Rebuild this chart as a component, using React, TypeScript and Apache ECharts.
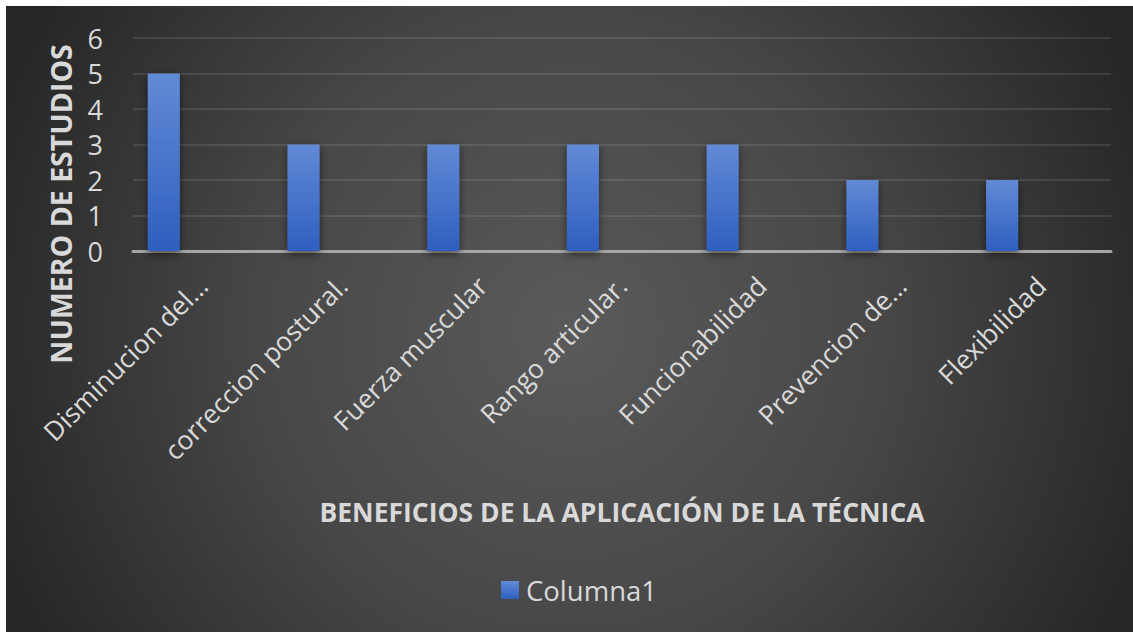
import React, { useEffect, useRef } from "react";
import * as echarts from "echarts";

const categories = [
  "Disminucion del…",
  "correccion postural.",
  "Fuerza muscular",
  "Rango articular.",
  "Funcionabilidad",
  "Prevencion de…",
  "Flexibilidad",
];
const columna1 = [5, 3, 3, 3, 3, 2, 2];
const emptySeries = [null, null, null, null, null, null, null];
const seriesName = "Columna1";
const yTitle = "NUMERO DE ESTUDIOS";
const xTitle = "BENEFICIOS DE LA APLICACIÓN DE LA TÉCNICA";

const FONT = "'Open Sans', Lato, sans-serif";
const TEXT = "#d9d9d9";

export default function App() {
  const ref = useRef<HTMLDivElement>(null);

  useEffect(() => {
    document.body.style.margin = "0";
    document.body.style.background = "#ffffff";
    if (!ref.current) return;
    const chart = echarts.init(ref.current, null, { renderer: "svg" });
    const barGradient = new echarts.graphic.LinearGradient(0, 0, 0, 1, [
      { offset: 0, color: "#628ad6" },
      { offset: 1, color: "#2e5fbf" },
    ]);
    chart.setOption({
      animation: false,
      backgroundColor: "transparent",
      textStyle: { fontFamily: FONT },
      grid: { left: 127, right: 22, top: 32, bottom: 381, containLabel: false },
      legend: {
        data: [seriesName],
        left: 490,
        top: 565,
        itemWidth: 18,
        itemHeight: 18,
        itemGap: 8,
        icon: "rect",
        textStyle: { color: TEXT, fontSize: 27.5, fontFamily: FONT, padding: [0, 0, 0, 2] },
      },
      xAxis: {
        type: "category",
        data: categories,
        axisLine: { show: true, lineStyle: { color: "#a6a6a6", width: 3 } },
        axisTick: { show: false },
        axisLabel: {
          rotate: 45,
          interval: 0,
          color: TEXT,
          fontSize: 26.5,
          fontFamily: FONT,
          margin: 30,
        },
        splitLine: { show: false },
      },
      yAxis: {
        type: "value",
        min: 0,
        max: 6,
        interval: 1,
        axisLine: { show: false },
        axisTick: { show: false },
        axisLabel: { color: TEXT, fontSize: 27, fontFamily: FONT, margin: 30 },
        splitLine: { lineStyle: { color: "rgba(255,255,255,0.1)", width: 2 } },
      },
      series: [
        {
          name: seriesName,
          type: "bar",
          data: columna1,
          barWidth: 32,
          barGap: "144%",
          itemStyle: {
            color: barGradient,
            shadowColor: "rgba(0,0,0,0.55)",
            shadowBlur: 8,
            shadowOffsetY: 3,
          },
        },
        {
          name: "Serie2",
          type: "bar",
          data: emptySeries,
          barWidth: 32,
          barGap: "144%",
        },
      ],
      graphic: [
        {
          type: "text",
          x: 55,
          y: 198,
          rotation: Math.PI / 2,
          style: {
            text: yTitle,
            fill: TEXT,
            font: `bold 28.5px ${FONT}`,
            align: "center",
            verticalAlign: "middle",
          },
        },
        {
          type: "text",
          x: 616,
          y: 506,
          style: {
            text: xTitle,
            fill: TEXT,
            font: `bold 26.5px ${FONT}`,
            align: "center",
            verticalAlign: "middle",
          },
        },
      ],
    });
    return () => chart.dispose();
  }, []);

  return (
    <div style={{ paddingLeft: 6, paddingTop: 6, width: 1127, height: 626 }}>
      <div
        ref={ref}
        style={{
          width: 1127,
          height: 626,
          background:
            "radial-gradient(circle 620px at 564px 324px, #5a5a5a 0%, #474747 50%, #262626 100%)",
        }}
      />
    </div>
  );
}
